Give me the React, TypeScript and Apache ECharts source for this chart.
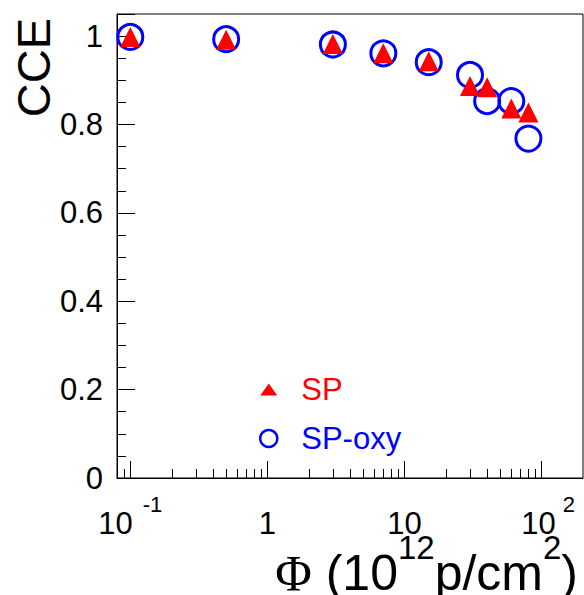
import React, { useEffect, useRef } from 'react';
import * as echarts from 'echarts';

// Fluence (10^12 p/cm^2)
const fluence = [0.1, 0.5, 3, 7, 15, 30, 40, 60, 80];
// CCE values
const cceSP = [0.998, 0.992, 0.982, 0.961, 0.943, 0.887, 0.884, 0.836, 0.827];
const cceSPoxy = [0.998, 0.993, 0.981, 0.961, 0.941, 0.912, 0.853, 0.853, 0.768];

const seriesNames = ['SP', 'SP-oxy'];
const yTickLabels = ['0', '0.2', '0.4', '0.6', '0.8', '1'];

// log-axis minor tick positions (2..9 x 10^k)
const xMinorTicks: number[] = [0.09];
for (const decade of [0.1, 1, 10]) {
  for (let m = 2; m <= 9; m++) xMinorTicks.push(+(m * decade).toPrecision(3));
}

const FONT = '"Liberation Sans", Arial, Helvetica, sans-serif';

export default function App() {
  const ref = useRef<HTMLDivElement>(null);

  useEffect(() => {
    if (!ref.current) return;
    const chart = echarts.init(ref.current, null, { renderer: 'svg' });

    const xLabel = (v: number) => {
      const l = Math.log10(v);
      const r = Math.round(l);
      if (Math.abs(l - r) > 1e-6) return '';
      if (r === 0) return '{b|1}';
      if (r === 1) return '{b|10}';
      if (r === -1) return '{b|10}{sm|-1}';
      return '{br|10}{s|' + r + '}';
    };

    chart.setOption({
      animation: false,
      backgroundColor: '#fff',
      grid: {
        left: 117,
        right: 1,
        top: 14,
        bottom: 117,
        show: true,
        borderColor: '#000',
        borderWidth: 1,
        containLabel: false,
        outerBoundsMode: 'none',
      },
      xAxis: {
        type: 'log',
        logBase: 10,
        min: 0.08,
        max: 200,
        axisLine: { show: true, onZero: false, lineStyle: { color: '#000', width: 1 } },
        axisTick: { show: true, inside: true, length: 17, lineStyle: { color: '#000', width: 1 } },
        minorTick: { show: false },
        splitLine: { show: false },
        axisLabel: {
          show: true,
          margin: 45,
          verticalAlign: 'middle',
          showMinLabel: false,
          showMaxLabel: false,
          color: '#000',
          formatter: xLabel,
          rich: {
            b: { fontSize: 31, fontFamily: FONT, lineHeight: 60, color: '#000' },
            br: { fontSize: 31, fontFamily: FONT, lineHeight: 60, color: '#000', padding: [0, 0, 0, 13] },
            s: { fontSize: 22, fontFamily: FONT, lineHeight: 22, color: '#000', padding: [0, 0, 38, 7] },
            sm: { fontSize: 22, fontFamily: FONT, lineHeight: 22, color: '#000', padding: [0, 0, 38, 10] },
          },
        },
      },
      yAxis: {
        type: 'value',
        min: 0,
        max: 1.05,
        interval: 0.2,
        axisLine: { show: true, lineStyle: { color: '#000', width: 1 } },
        axisTick: { show: true, inside: true, length: 18, lineStyle: { color: '#000', width: 1 } },
        minorTick: { show: true, splitNumber: 4, length: 9, lineStyle: { color: '#000', width: 1 } },
        splitLine: { show: false },
        axisLabel: {
          show: true,
          margin: 14,
          showMaxLabel: false,
          fontSize: 31,
          fontFamily: FONT,
          color: '#000',
          formatter: (v: number) => {
            const i = Math.round(v / 0.2);
            return Math.abs(v - i * 0.2) < 1e-6 && yTickLabels[i] !== undefined ? yTickLabels[i] : '';
          },
        },
      },
      legend: {
        orient: 'vertical',
        left: 254,
        top: 369,
        itemWidth: 17,
        itemHeight: 17,
        itemGap: 18,
        selectedMode: false,
        textStyle: { fontSize: 31, fontFamily: FONT, lineHeight: 30, padding: [0, 0, 0, 19] },
        data: [
          {
            name: seriesNames[0],
            icon: 'path://M0,12L8.5,0L17,12Z',
            itemStyle: { color: '#ff0000', borderWidth: 0, opacity: 1 },
            textStyle: { color: '#ff0000' },
          },
          {
            name: seriesNames[1],
            icon: 'circle',
            itemStyle: { color: 'rgba(0,0,0,0)', borderColor: '#0000ff', borderWidth: 2.5, opacity: 1 },
            textStyle: { color: '#0000ff' },
          },
        ],
      },
      graphic: [
        {
          type: 'text',
          x: 33,
          y: 18,
          rotation: Math.PI / 2,
          style: {
            text: 'CCE',
            fontSize: 47,
            fontFamily: FONT,
            fill: '#000',
            align: 'right',
            verticalAlign: 'middle',
          },
        },
        {
          type: 'text',
          x: 578,
          y: 573,
          style: {
            text: '{phi|Φ}{sp| }{t|(10}{s|12}{t|p/cm}{s|2}{t|)}',
            fontSize: 50,
            fontFamily: FONT,
            fill: '#000',
            align: 'right',
            verticalAlign: 'middle',
            rich: {
              phi: { fontSize: 50, fontFamily: '"Liberation Serif", "Times New Roman", serif', lineHeight: 84, fill: '#000' },
              sp: { fontSize: 50, fontFamily: FONT, lineHeight: 84, fill: '#000' },
              t: { fontSize: 50, fontFamily: FONT, lineHeight: 84, fill: '#000' },
              s: { fontSize: 33, fontFamily: FONT, lineHeight: 33, fill: '#000', padding: [0, 0, 51, 0] },
            },
          },
        },
      ],
      series: [
        {
          name: seriesNames[1],
          type: 'scatter',
          symbol: 'circle',
          symbolSize: 25,
          itemStyle: { color: 'rgba(0,0,0,0)', borderColor: '#0000ff', borderWidth: 3, opacity: 1 },
          data: fluence.map((x, i) => [x, cceSPoxy[i]]),
          z: 3,
        },
        {
          name: seriesNames[0],
          type: 'scatter',
          symbol: 'triangle',
          symbolSize: 20,
          itemStyle: { color: '#ff0000', opacity: 1 },
          data: fluence.map((x, i) => [x, cceSP[i]]),
          z: 4,
        },
        {
          type: 'custom',
          silent: true,
          clip: false,
          z: 5,
          data: xMinorTicks.map((v) => [v, 0]),
          renderItem: (_params: any, api: any) => {
            const p = api.coord([api.value(0), 0]);
            const x = Math.round(p[0]) + 0.5;
            return {
              type: 'line',
              shape: { x1: x, y1: p[1], x2: x, y2: p[1] - 9 },
              style: { stroke: '#000', lineWidth: 1 },
            };
          },
        },
      ],
    });

    return () => chart.dispose();
  }, []);

  return (
    <div
      ref={ref}
      style={{ position: 'fixed', left: 0, top: 0, width: 584, height: 595, background: '#fff' }}
    />
  );
}
